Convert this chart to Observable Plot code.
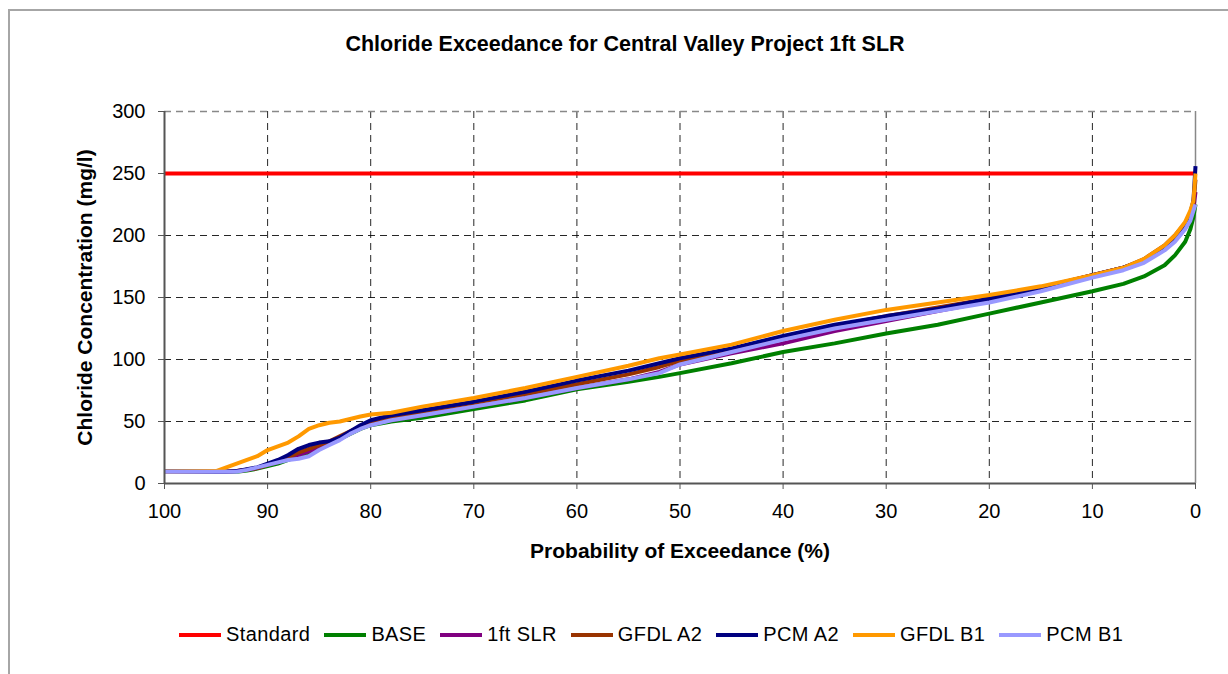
<!DOCTYPE html>
<html>
<head>
<meta charset="utf-8">
<script src="https://cdn.jsdelivr.net/npm/d3@7"></script>
<script src="https://cdn.jsdelivr.net/npm/@observablehq/plot@0.6"></script>
<style>
  html, body { margin: 0; padding: 0; background: #fff; }
  #wrap { position: relative; width: 1228px; height: 674px; overflow: hidden; font-family: "Liberation Sans", Arial, sans-serif; }
  #frame { position: absolute; left: 8px; top: 9px; right: -10px; bottom: -10px; border-top: 2px solid #a6a6a6; border-left: 2px solid #a6a6a6; }
  #title { position: absolute; top: 32px; left: 0; width: 1250px; text-align: center; font-weight: bold; font-size: 21.5px; color: #000; }
  #chart { position: absolute; left: 0; top: 0; }
  #legend { position: absolute; top: 623px; left: 179px; display: flex; align-items: center; font-size: 20px; letter-spacing: 0.4px; color: #000; white-space: nowrap; }
  #legend .item { display: flex; align-items: center; margin-right: 14px; }
  #legend .sw { width: 42px; height: 4px; margin-right: 5px; }
  svg [aria-label="y-axis label"] text, svg [aria-label="x-axis label"] text { font-weight: bold; font-size: 21px; }
</style>
</head>
<body>
<div id="wrap">
  <div id="frame"></div>
  <div id="chart"></div>
  <div id="title">Chloride Exceedance for Central Valley Project 1ft SLR</div>
  <div id="legend"></div>
</div>
<script>
// Probability of exceedance (%) — shared x values
const prob = [100,95,94,93,92,91,90,89,88,87,86,85,84,83,82,81,80,
              78,75,70,65,60,55,52,50,45,40,35,30,25,20,15,10,7,5,3,2,1,0.5,0.2,0];

// Chloride concentration (mg/l) per series
const base   = [9.5,9.5,9.5,9.5,10.5,12,14,16,19,22,25,28,32,36,40,44,47,
                50,53,60,67,76,82,86,89,97,106,113,121,128,137,146,155,161,167,176,184,195,205,215,225];
const slr1ft = [9.5,9.5,9.5,10,11,12.5,15,17,20,23,26,29,33,37,41,45,48,
                51,55,62,69,77,84,90,96,105,113,123,131,139,147,158,168,174,180,190,197,207,215,222,235];
const gfdlA2 = [9.5,9.5,9.5,10,11,12.5,15,18,21,25,28,31,34,38,42,46,50,
                53,58,65,72,80,88,94,99,108,117,127,135,142,149,158,168,174,181,192,200,210,218,226,245];
const pcmA2  = [9.5,9.5,9.5,10,11.5,13,16,19,23,28,31,33,34,37,42,47,51,
                55,59,66,74,83,91,97,101,109,119,128,135,141,149,157,168,174,180,190,197,208,218,228,256];
const gfdlB1 = [9.5,10,13,16,19,22,27,30,33,38,44,47,49,50,52,54,55.6,
                57,62,69,77,86,95,101,104,112,123,132,140,146,152,159,168,174,181,192,200,211,220,228,250];
const pcmB1  = [9.5,9.5,9.5,9.5,11,13,15,17,19,20,22,27,31,35,40,44,47,
                51,55,62,69,77,84,89,96,106,116,125,132,139,146,155,166,172,178,188,195,205,212,220,225];
const standardValue = 250;

const seriesNames  = ["Standard","BASE","1ft SLR","GFDL A2","PCM A2","GFDL B1","PCM B1"];
const seriesColors = ["#FF0000","#008000","#800080","#993300","#000080","#FF9900","#9999FF"];
const seriesValues = [null, base, slr1ft, gfdlA2, pcmA2, gfdlB1, pcmB1];

const xTicks = [100,90,80,70,60,50,40,30,20,10,0];
const yTicks = [0,50,100,150,200,250,300];

// Build long table
const rows = [];
seriesNames.forEach((name, i) => {
  if (name === "Standard") {
    rows.push({series: name, p: 100, v: standardValue});
    rows.push({series: name, p: 0, v: standardValue});
  } else {
    prob.forEach((p, j) => rows.push({series: name, p, v: seriesValues[i][j]}));
  }
});

const chart = Plot.plot({
  width: 1228,
  height: 674,
  marginLeft: 164,
  marginRight: 33,
  marginTop: 111,
  marginBottom: 191,
  style: {fontFamily: '"Liberation Sans", Arial, sans-serif', fontSize: "20px", color: "#000", background: "transparent"},
  x: {domain: [100, 0]},
  y: {domain: [0, 300]},
  color: {domain: seriesNames, range: seriesColors},
  marks: [
    Plot.gridX(xTicks.filter(d => d !== 100 && d !== 0), {stroke: "#000", strokeOpacity: 0.85, strokeWidth: 1, strokeDasharray: "7,5"}),
    Plot.gridY(yTicks.filter(d => d !== 0 && d !== 300), {stroke: "#000", strokeOpacity: 0.85, strokeWidth: 1, strokeDasharray: "7,5"}),
    Plot.ruleY([300], {stroke: "#888", strokeWidth: 1.5, strokeDasharray: "7,5"}),
    Plot.ruleX([0], {stroke: "#888", strokeWidth: 1.5}),
    Plot.line(rows, {x: "p", y: "v", z: "series", stroke: "series", strokeWidth: 4, strokeLinejoin: "round", strokeLinecap: "butt"}),
    Plot.ruleX([100], {stroke: "#555", strokeWidth: 2}),
    Plot.ruleY([0], {stroke: "#555", strokeWidth: 2}),
    Plot.axisX({ticks: xTicks, tickSize: 6, tickPadding: 14, stroke: "#555", tickFormat: d => String(d),
                label: "Probability of Exceedance (%)", labelAnchor: "center", labelArrow: "none", labelOffset: 74}),
    Plot.axisY({ticks: yTicks, tickSize: 6, tickPadding: 13, stroke: "#555", tickFormat: d => String(d),
                label: "Chloride Concentration (mg/l)", labelAnchor: "center", labelArrow: "none", labelOffset: 87})
  ]
});
document.getElementById("chart").appendChild(chart);

// HTML legend
const legend = document.getElementById("legend");
seriesNames.forEach((name, i) => {
  const item = document.createElement("div");
  item.className = "item";
  const sw = document.createElement("span");
  sw.className = "sw";
  sw.style.background = seriesColors[i];
  const t = document.createElement("span");
  t.textContent = name;
  item.appendChild(sw);
  item.appendChild(t);
  legend.appendChild(item);
});
</script>
</body>
</html>
